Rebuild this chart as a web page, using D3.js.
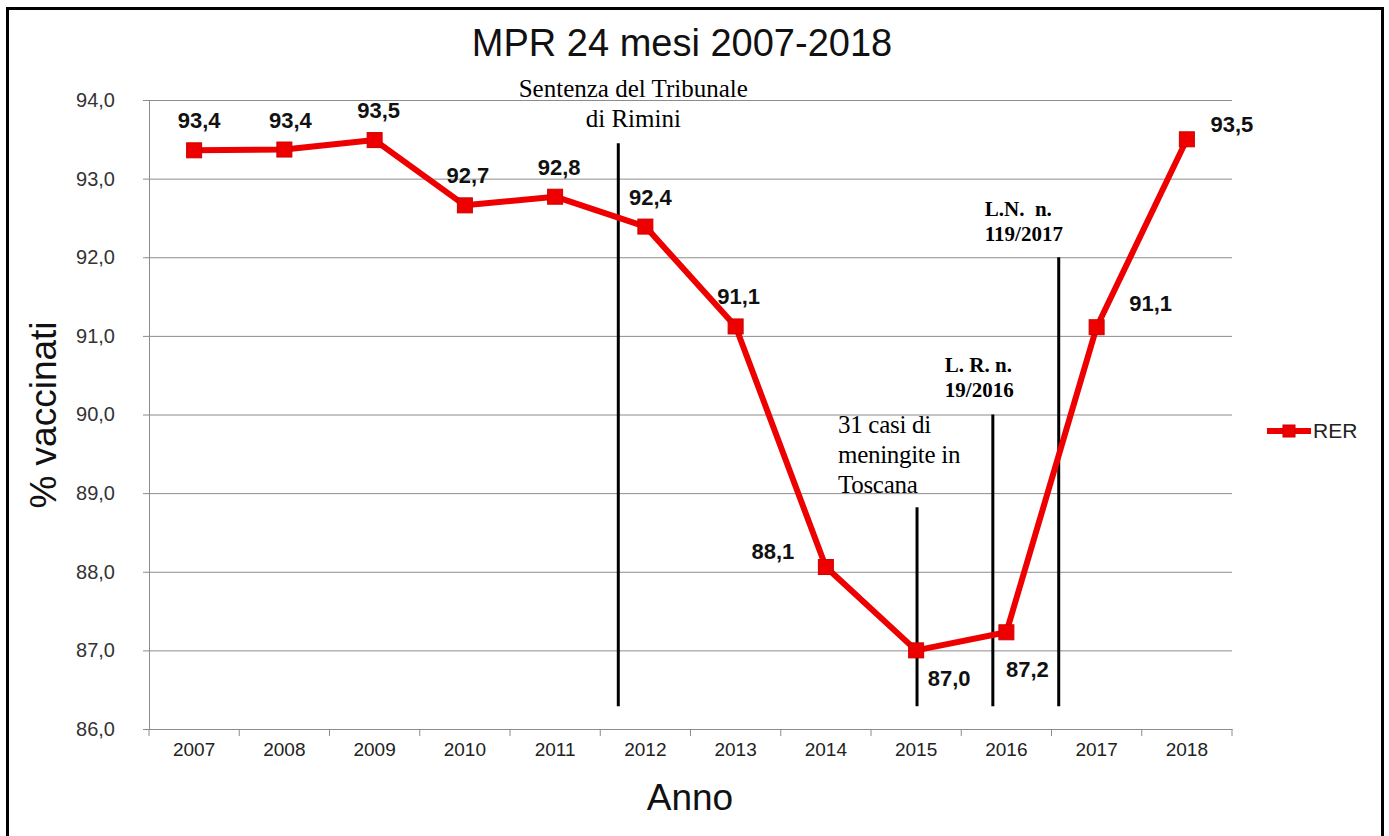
<!DOCTYPE html>
<html>
<head>
<meta charset="utf-8">
<script src="https://cdn.jsdelivr.net/npm/d3@7"></script>
<style>
  html, body { margin: 0; padding: 0; background: #fff; }
  svg { display: block; }
</style>
</head>
<body>
<svg id="chart" width="1389" height="836"></svg>
<script>
// data
const years = ["2007", "2008", "2009", "2010", "2011", "2012", "2013", "2014", "2015", "2016", "2017", "2018"];
const rer = [93.36, 93.37, 93.49, 92.66, 92.77, 92.39, 91.12, 88.06, 87.0, 87.23, 91.11, 93.5];
const yTicks = [86, 87, 88, 89, 90, 91, 92, 93, 94];

// vertical event markers: position in years, top value, text lines
const eventYear = [2011.7, 2015.01, 2015.85, 2016.58];
const eventTop = [93.45, 88.82, 90.0, 92.0];
const eventText = [
  ["Sentenza del Tribunale", "di Rimini"],
  ["31 casi di", "meningite in", "Toscana"],
  ["L. R. n.", "19/2016"],
  ["L.N.  n.", "119/2017"]
];

// label placement (px offsets from each point)
const labelDx = [5, 6, 4, 3, 4, 5, 3, -53, 33, 21, 54, 45];
const labelDy = [-22, -22, -22, -22, -22, -22, -22, -8, 36, 45, -16, -7];

const svg = d3.select("#chart");
const plotLeft = 149, plotRight = 1232, plotTop = 100, plotBottom = 729;
const w = plotRight - plotLeft;
const fmt = v => d3.format(".1f")(v).replace(".", ",");

// outer frame
svg.append("rect")
  .attr("x", 7.5).attr("y", 8.5)
  .attr("width", 1375).attr("height", 840)
  .attr("fill", "none").attr("stroke", "#000").attr("stroke-width", 3);

const x = d3.scaleBand().domain(years).range([plotLeft, plotRight]);
const y = d3.scaleLinear().domain([86, 94]).range([plotBottom, plotTop]);
const step = x.step();
const xYear = d => plotLeft + (d - 2007 + 0.5) * step;

// grid
svg.append("g")
  .attr("transform", "translate(" + plotLeft + ",0)")
  .call(d3.axisLeft(y).tickValues(yTicks).tickSize(-w).tickFormat(""))
  .call(g => g.select(".domain").remove())
  .selectAll("line").attr("stroke", "#8c8c8c");

// y axis
svg.append("g")
  .attr("transform", "translate(" + plotLeft + ",0)")
  .call(d3.axisLeft(y).tickValues(yTicks).tickSize(6).tickPadding(28).tickFormat(fmt))
  .call(g => g.select(".domain").attr("stroke", "#8c8c8c"))
  .call(g => g.selectAll("line").attr("stroke", "#8c8c8c"))
  .selectAll("text")
  .attr("font-family", "'Liberation Sans', Arial, sans-serif")
  .attr("font-size", 20).attr("fill", "#333");

// x axis
svg.append("g")
  .attr("transform", "translate(0," + plotBottom + ")")
  .call(d3.axisBottom(x).tickSize(0).tickPadding(14))
  .call(g => g.select(".domain").attr("stroke", "#8c8c8c"))
  .selectAll("text")
  .attr("font-family", "'Liberation Sans', Arial, sans-serif")
  .attr("font-size", 19).attr("fill", "#222");

svg.append("g").selectAll("line")
  .data(years.map(d => x(d)).concat([plotRight]))
  .join("line")
  .attr("x1", d => d).attr("x2", d => d)
  .attr("y1", plotBottom).attr("y2", plotBottom + 7)
  .attr("stroke", "#8c8c8c");

// event lines
svg.append("g").selectAll("line")
  .data(eventYear)
  .join("line")
  .attr("x1", d => xYear(d)).attr("x2", d => xYear(d))
  .attr("y1", (d, i) => y(eventTop[i])).attr("y2", y(86.29))
  .attr("stroke", "#000").attr("stroke-width", 3);

// event texts
const serif = "'Liberation Serif', 'Times New Roman', serif";
const ev = svg.append("g").attr("font-family", serif).attr("fill", "#000");
// Sentenza: centered above
ev.append("text").attr("text-anchor", "middle").attr("font-size", 25)
  .selectAll("tspan").data(eventText[0]).join("tspan")
  .attr("x", xYear(eventYear[0]) + 15)
  .attr("y", (d, i) => 97 + i * 30)
  .text(d => d);
ev.append("text").attr("font-size", 25).attr("letter-spacing", -0.3)
  .selectAll("tspan").data(eventText[1]).join("tspan")
  .attr("x", xYear(eventYear[1]) - 79)
  .attr("y", (d, i) => 433 + i * 30)
  .text(d => d);
ev.append("text").attr("font-size", 21).attr("font-weight", "bold")
  .selectAll("tspan").data(eventText[2]).join("tspan")
  .attr("x", xYear(eventYear[2]) - 48)
  .attr("y", (d, i) => 372 + i * 25)
  .text(d => d);
ev.append("text").attr("font-size", 21).attr("font-weight", "bold")
  .style("white-space", "pre")
  .selectAll("tspan").data(eventText[3]).join("tspan")
  .attr("x", xYear(eventYear[3]) - 74)
  .attr("y", (d, i) => 216 + i * 25)
  .text(d => d);

// series line
const line = d3.line()
  .x((d, i) => x(years[i]) + x.bandwidth() / 2)
  .y(d => y(d));

svg.append("path")
  .datum(rer)
  .attr("d", line)
  .attr("fill", "none")
  .attr("stroke", "#ee0000")
  .attr("stroke-width", 6)
  .attr("stroke-linejoin", "round");

const ms = 15;
svg.append("g").selectAll("rect")
  .data(rer)
  .join("rect")
  .attr("x", (d, i) => x(years[i]) + x.bandwidth() / 2 - ms / 2)
  .attr("y", d => y(d) - ms / 2)
  .attr("width", ms).attr("height", ms)
  .attr("fill", "#ee0000").attr("stroke", "#cc0000").attr("stroke-width", 1);

// data labels
svg.append("g").selectAll("text")
  .data(rer)
  .join("text")
  .attr("x", (d, i) => x(years[i]) + x.bandwidth() / 2 + labelDx[i])
  .attr("y", (d, i) => y(d) + labelDy[i])
  .attr("text-anchor", "middle")
  .attr("font-family", "'Liberation Sans', Arial, sans-serif")
  .attr("font-weight", "bold").attr("font-size", 22).attr("fill", "#111")
  .text(d => fmt(d));

// legend
const lg = svg.append("g");
lg.append("line")
  .attr("x1", 1267).attr("x2", 1311).attr("y1", 431).attr("y2", 431)
  .attr("stroke", "#ee0000").attr("stroke-width", 6);
lg.append("rect")
  .attr("x", 1283).attr("y", 425).attr("width", 12).attr("height", 12)
  .attr("fill", "#ee0000").attr("stroke", "#cc0000");
lg.append("text")
  .attr("x", 1313).attr("y", 438)
  .attr("font-family", "'Liberation Sans', Arial, sans-serif")
  .attr("font-size", 21).attr("fill", "#222")
  .text("RER");

// titles
svg.append("text")
  .attr("x", 682).attr("y", 56)
  .attr("text-anchor", "middle")
  .attr("font-family", "'Liberation Sans', Arial, sans-serif")
  .attr("font-size", 38).attr("fill", "#111")
  .text("MPR 24 mesi 2007-2018");

svg.append("text")
  .attr("transform", "translate(56,415) rotate(-90)")
  .attr("text-anchor", "middle")
  .attr("font-family", "'Liberation Sans', Arial, sans-serif")
  .attr("font-size", 37).attr("fill", "#111")
  .text("% vaccinati");

svg.append("text")
  .attr("x", 690).attr("y", 810)
  .attr("text-anchor", "middle")
  .attr("font-family", "'Liberation Sans', Arial, sans-serif")
  .attr("font-size", 37).attr("fill", "#111")
  .text("Anno");
</script>
</body>
</html>
